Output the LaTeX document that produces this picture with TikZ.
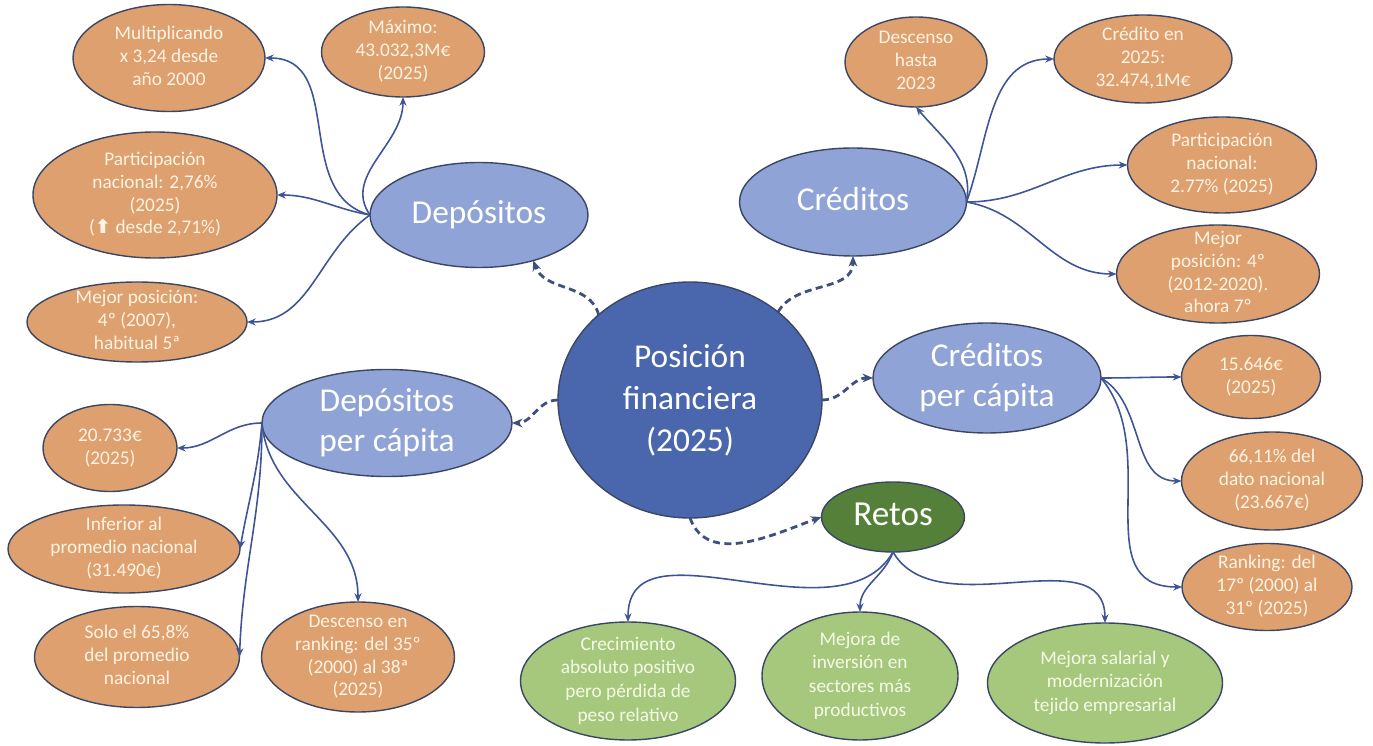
\documentclass[tikz,border=0pt]{standalone}
\usepackage{fontspec}
\setmainfont{Carlito}
\newfontfamily\djv{DejaVu Sans}
\usetikzlibrary{shapes.geometric,arrows.meta}
\definecolor{orng}{RGB}{221,160,110}
\definecolor{lblu}{RGB}{143,163,214}
\definecolor{dblu}{RGB}{74,103,174}
\definecolor{dgrn}{RGB}{85,128,58}
\definecolor{lgrn}{RGB}{165,200,124}
\definecolor{outl}{RGB}{58,70,100}
\definecolor{conn}{RGB}{62,84,150}
\definecolor{dconn}{RGB}{63,80,125}
\definecolor{cream}{RGB}{255,243,227}
\definecolor{gtxt}{RGB}{245,250,232}
\newcommand\tx[1]{\makebox[0pt]{\smash{\raisebox{-0.25em}{\begin{tabular}{@{}c@{}}#1\end{tabular}}}}}
\tikzset{
  base/.style={ellipse, draw=outl, line width=0.8pt, inner sep=0pt, outer sep=0pt},
  sz/.style 2 args={minimum width=#1*0.02cm, minimum height=#2*0.02cm},
  orn/.style={base, fill=orng, text=cream, font=\fontsize{11}{13}\selectfont},
  grn/.style={base, fill=lgrn, text=gtxt, font=\fontsize{11}{13.5}\selectfont},
  blu/.style={base, fill=lblu, text=white, font=\fontsize{19}{22.5}\selectfont},
  hub/.style={base, fill=dblu, text=white, font=\fontsize{19}{24}\selectfont},
  ret/.style={base, fill=dgrn, text=white, font=\fontsize{20}{24}\selectfont},
  con/.style={draw=conn, line width=0.9pt, -{Stealth[length=5pt,width=4pt]}},
  dcon/.style={draw=dconn, line width=1.6pt, dash pattern=on 4pt off 2.5pt, -{Stealth[length=6pt,width=5pt]}}
}
\begin{document}
\begin{tikzpicture}[x=0.02cm,y=-0.02cm]
\useasboundingbox (0,0) rectangle (1373,746);
% main nodes
\node[hub, sz={264}{236}] (main) at (690,400) {\tx{Posición\\financiera\\(2025)}};
\node[blu, sz={218}{105}] (dep) at (479,215) {\tx{Depósitos}};
\node[blu, sz={227}{108}] (cre) at (853,202) {\tx{Créditos}};
\node[blu, sz={228}{110}] (crpc) at (987,378) {\tx{Créditos\\per cápita}};
\node[blu, sz={250}{107}] (dpc) at (387,423) {\tx{Depósitos\\per cápita}};
\node[ret, sz={143}{70}] (retos) at (893,517) {\tx{Retos}};
% depositos leaves
\node[orn, sz={192}{107}] (mult) at (169,58) {\tx{Multiplicando\\x 3,24 desde\\año 2000}};
\node[orn, sz={163}{90}] (max) at (403,52) {\tx{Máximo:\\43.032,3M€\\(2025)}};
\node[orn, sz={244}{126}] (part) at (155,195) {\tx{Participación\\nacional: 2,76\%\\(2025)\\({\djv\bfseries ⬆} desde 2,71\%)}};
\node[orn, sz={220}{80}] (mej1) at (137,322) {\tx{Mejor posición:\\4º (2007),\\habitual 5ª}};
% creditos leaves
\node[orn, sz={142}{90}] (desc) at (916,62) {\tx{Descenso\\hasta\\2023}};
\node[orn, sz={178}{88}] (cren) at (1143,59) {\tx{Crédito en\\2025:\\32.474,1M€}};
\node[orn, sz={189}{96}] (part2) at (1222,165) {\tx{Participación\\nacional:\\2.77\% (2025)}};
\node[orn, sz={203}{98}] (mej2) at (1218,274) {\tx{Mejor\\posición: 4º\\(2012-2020).\\ahora 7º}};
% creditos per capita leaves
\node[orn, sz={139}{83}] (c15) at (1251,377) {\tx{15.646€\\(2025)}};
\node[orn, sz={181}{98}] (c66) at (1272,481) {\tx{66,11\% del\\dato nacional\\(23.667€)}};
\node[orn, sz={170}{87}] (crank) at (1267,587) {\tx{Ranking: del\\17º (2000) al\\31º (2025)}};
% depositos per capita leaves
\node[orn, sz={134}{87}] (d20) at (110,448) {\tx{20.733€\\(2025)}};
\node[orn, sz={232}{88}] (dinf) at (124,549) {\tx{Inferior al\\promedio nacional\\(31.490€)}};
\node[orn, sz={205}{101}] (dsolo) at (137,657) {\tx{Solo el 65,8\%\\del promedio\\nacional}};
\node[orn, sz={193}{110}] (ddesc) at (358,657) {\tx{Descenso en\\ranking: del 35º\\(2000) al 38ª\\(2025)}};
% retos leaves
\node[grn, sz={215}{118}] (crec) at (628,681) {\tx{Crecimiento\\absoluto positivo\\pero pérdida de\\peso relativo}};
\node[grn, sz={196}{128}] (mejinv) at (860,676) {\tx{Mejora de\\inversión en\\sectores más\\productivos}};
\node[grn, sz={235}{120}] (mejsal) at (1105,683) {\tx{Mejora salarial y\\modernización\\tejido empresarial}};
% dashed connectors
\draw[dcon] (main.137) to[out=105,in=-70] (dep.-40);
\draw[dcon] (main.45) to[out=60,in=-90] (cre.south);
\draw[dcon] (main.west) to[out=180,in=0] (dpc.east);
\draw[dcon] (main.east) to[out=0,in=180] (crpc.west);
\draw[dcon] (main.south) to[out=-70,in=-160] (retos.west);
% depositos
\draw[con] (dep.west) to[out=165,in=0,looseness=1.1] (mult.east);
\draw[con] (dep.west) to[out=125,in=-90] (max.south);
\draw[con] (dep.west) to[out=170,in=0] (part.east);
\draw[con] (dep.west) to[out=215,in=0] (mej1.east);
% creditos
\draw[con] (cre.east) to[out=80,in=-50] (desc.south);
\draw[con] (cre.east) to[out=70,in=180] (cren.west);
\draw[con] (cre.east) to[out=0,in=180] (part2.west);
\draw[con] (cre.east) to[out=-10,in=180] (mej2.west);
% creditos per capita
\draw[con] (crpc.east) to[out=0,in=180] (c15.west);
\draw[con] (crpc.east) to[out=-30,in=180] (c66.west);
\draw[con] (crpc.east) to[out=-50,in=180,looseness=1.1] (crank.west);
% depositos per capita
\draw[con] (dpc.west) to[out=180,in=0] (d20.east);
\draw[con] (dpc.west) to[out=-95,in=80] (dinf.east);
\draw[con] (dpc.west) to[out=-90,in=88] (dsolo.east);
\draw[con] (dpc.west) to[out=-85,in=90] (ddesc.north);
% retos
\draw[con] (retos.south) to[out=-120,in=90] (crec.north);
\draw[con] (retos.south) to[out=-110,in=90] (mejinv.north);
\draw[con] (retos.south) to[out=-60,in=90] (mejsal.north);
\end{tikzpicture}
\end{document}
